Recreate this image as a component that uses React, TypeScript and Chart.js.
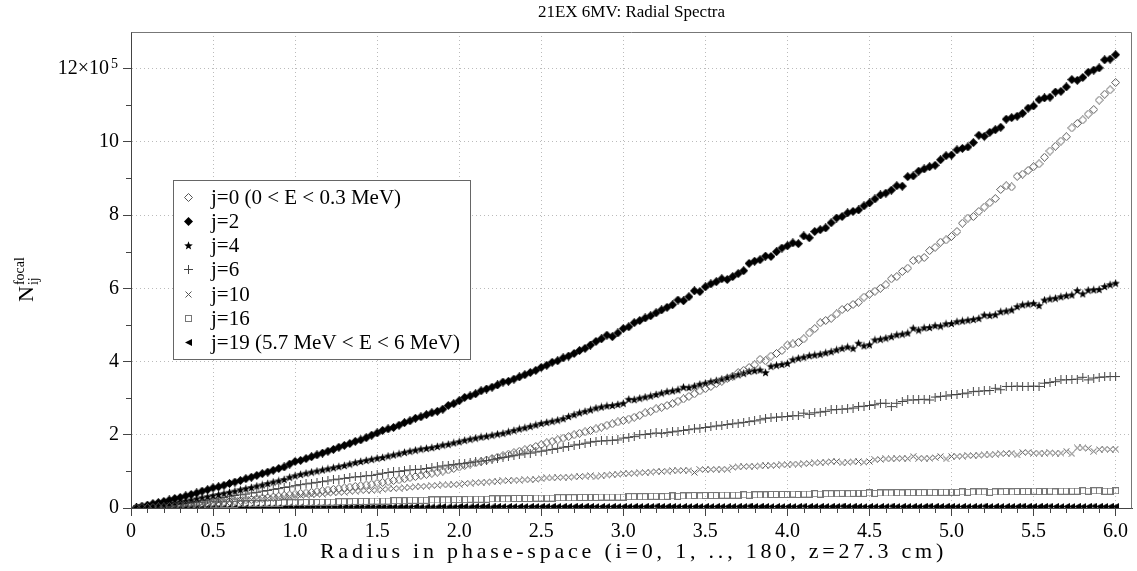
import React, { useEffect, useRef } from 'react';
import { Chart, registerables } from 'chart.js';

Chart.register(...registerables);

const FONT = '"Liberation Serif", "Times New Roman", serif';

const TITLE = '21EX 6MV: Radial Spectra';
const X_TITLE = 'Radius in phase-space (i=0, 1, .., 180, z=27.3 cm)';
const Y_TITLE_MAIN = 'N';
const Y_TITLE_SUB = 'ij';
const Y_TITLE_SUP = 'focal';

// phase-space radius index i = 1..180 (radius = i * 6/180)
const POINT_INDEX: number[] = Array.from({ length: 180 }, (_, k) => k + 1);
const RADIUS_PER_INDEX = 6 / 180;

const X_TICKS = [0, 0.5, 1, 1.5, 2, 2.5, 3, 3.5, 4, 4.5, 5, 5.5, 6];
const X_TICK_LABELS = ['0', '0.5', '1.0', '1.5', '2.0', '2.5', '3.0', '3.5', '4.0', '4.5', '5.0', '5.5', '6.0'];
const Y_TICKS = [0, 2, 4, 6, 8, 10, 12];
const Y_TICK_LABELS = ['0', '2', '4', '6', '8', '10', '12\u00d710\u2002'];
const Y_TICK_EXPONENT = '5';

const SERIES_LABELS = [
  'j=0 (0 < E < 0.3 MeV)',
  'j=2',
  'j=4',
  'j=6',
  'j=10',
  'j=16',
  'j=19 (5.7 MeV < E < 6 MeV)',
];

// values in units of 1e5
const J0 = [
  0.00, 0.01, 0.01, 0.02, 0.03, 0.03, 0.04, 0.05, 0.06, 0.07, 0.08, 0.09, 0.11, 0.12, 0.14,
  0.15, 0.16, 0.18, 0.19, 0.20, 0.22, 0.23, 0.25, 0.27, 0.28, 0.30, 0.32, 0.34, 0.36, 0.38,
  0.40, 0.41, 0.43, 0.45, 0.47, 0.49, 0.51, 0.53, 0.55, 0.57, 0.59, 0.61, 0.63, 0.65, 0.68,
  0.70, 0.72, 0.75, 0.77, 0.80, 0.83, 0.86, 0.89, 0.92, 0.95, 0.98, 1.01, 1.04, 1.08, 1.12,
  1.16, 1.20, 1.23, 1.27, 1.31, 1.35, 1.39, 1.43, 1.47, 1.51, 1.55, 1.59, 1.63, 1.68, 1.73,
  1.78, 1.82, 1.86, 1.91, 1.95, 2.00, 2.04, 2.08, 2.12, 2.16, 2.21, 2.26, 2.30, 2.35, 2.39,
  2.43, 2.48, 2.53, 2.60, 2.64, 2.71, 2.75, 2.80, 2.85, 2.92, 2.98, 3.05, 3.12, 3.20, 3.26,
  3.32, 3.40, 3.46, 3.54, 3.60, 3.70, 3.76, 3.84, 3.91, 4.06, 4.02, 4.15, 4.22, 4.30, 4.45,
  4.48, 4.52, 4.62, 4.78, 4.90, 5.06, 5.12, 5.18, 5.30, 5.42, 5.48, 5.56, 5.62, 5.76, 5.84,
  5.92, 6.00, 6.10, 6.26, 6.32, 6.46, 6.55, 6.76, 6.80, 6.84, 7.03, 7.12, 7.26, 7.32, 7.42,
  7.55, 7.78, 7.92, 7.96, 8.10, 8.22, 8.34, 8.45, 8.70, 8.80, 8.77, 9.06, 9.12, 9.22, 9.32,
  9.40, 9.58, 9.75, 9.88, 10.02, 10.14, 10.38, 10.50, 10.60, 10.76, 10.88, 11.14, 11.30, 11.42, 11.62,
];
const J2 = [
  0.02, 0.05, 0.08, 0.12, 0.15, 0.18, 0.22, 0.26, 0.29, 0.33, 0.37, 0.41, 0.46, 0.50, 0.55,
  0.58, 0.62, 0.67, 0.71, 0.75, 0.80, 0.84, 0.89, 0.94, 0.98, 1.03, 1.08, 1.12, 1.20, 1.27,
  1.30, 1.35, 1.40, 1.45, 1.50, 1.55, 1.60, 1.66, 1.71, 1.76, 1.82, 1.86, 1.92, 1.99, 2.05,
  2.12, 2.16, 2.20, 2.26, 2.33, 2.38, 2.45, 2.49, 2.55, 2.60, 2.64, 2.70, 2.80, 2.85, 2.93,
  3.02, 3.06, 3.12, 3.20, 3.25, 3.30, 3.36, 3.44, 3.46, 3.52, 3.58, 3.64, 3.70, 3.76, 3.84,
  3.90, 3.98, 4.02, 4.10, 4.15, 4.22, 4.30, 4.36, 4.45, 4.55, 4.62, 4.72, 4.68, 4.78, 4.90,
  4.95, 5.06, 5.12, 5.19, 5.25, 5.33, 5.41, 5.48, 5.55, 5.68, 5.66, 5.77, 5.93, 5.91, 6.04,
  6.12, 6.18, 6.26, 6.24, 6.32, 6.40, 6.48, 6.68, 6.74, 6.78, 6.88, 6.87, 7.00, 7.10, 7.16,
  7.24, 7.22, 7.43, 7.38, 7.55, 7.60, 7.65, 7.79, 7.92, 7.96, 8.06, 8.10, 8.14, 8.25, 8.33,
  8.44, 8.55, 8.60, 8.68, 8.80, 8.79, 9.05, 9.07, 9.20, 9.26, 9.32, 9.36, 9.51, 9.62, 9.64,
  9.78, 9.82, 9.86, 9.98, 10.18, 10.15, 10.26, 10.33, 10.40, 10.62, 10.66, 10.70, 10.78, 10.92, 10.98,
  11.15, 11.20, 11.22, 11.36, 11.38, 11.50, 11.70, 11.68, 11.76, 11.90, 11.96, 12.02, 12.24, 12.26, 12.38,
];
const J4 = [
  0.01, 0.02, 0.04, 0.06, 0.08, 0.10, 0.12, 0.14, 0.17, 0.19, 0.22, 0.25, 0.28, 0.31, 0.34,
  0.37, 0.40, 0.43, 0.46, 0.50, 0.53, 0.56, 0.60, 0.63, 0.67, 0.71, 0.74, 0.78, 0.84, 0.88,
  0.92, 0.95, 0.98, 1.01, 1.04, 1.07, 1.10, 1.13, 1.16, 1.20, 1.24, 1.27, 1.30, 1.33, 1.36,
  1.38, 1.42, 1.45, 1.48, 1.52, 1.55, 1.58, 1.61, 1.63, 1.65, 1.68, 1.72, 1.74, 1.78, 1.81,
  1.85, 1.88, 1.91, 1.94, 1.96, 1.99, 2.02, 2.04, 2.08, 2.12, 2.16, 2.19, 2.23, 2.27, 2.31,
  2.34, 2.37, 2.40, 2.44, 2.50, 2.55, 2.60, 2.64, 2.68, 2.73, 2.76, 2.79, 2.80, 2.83, 2.86,
  2.97, 2.96, 3.00, 3.03, 3.06, 3.10, 3.14, 3.18, 3.20, 3.23, 3.30, 3.29, 3.33, 3.38, 3.41,
  3.45, 3.48, 3.52, 3.56, 3.60, 3.64, 3.68, 3.73, 3.75, 3.77, 3.70, 3.87, 3.90, 3.92, 3.95,
  4.05, 4.09, 4.12, 4.16, 4.18, 4.20, 4.24, 4.27, 4.32, 4.36, 4.40, 4.36, 4.50, 4.43, 4.46,
  4.59, 4.61, 4.64, 4.68, 4.73, 4.75, 4.78, 4.91, 4.86, 4.92, 4.93, 4.98, 4.97, 5.03, 5.04,
  5.09, 5.11, 5.13, 5.15, 5.18, 5.27, 5.26, 5.28, 5.36, 5.38, 5.41, 5.50, 5.55, 5.57, 5.59,
  5.53, 5.68, 5.71, 5.73, 5.77, 5.80, 5.82, 5.94, 5.85, 5.95, 5.96, 5.97, 6.05, 6.10, 6.14,
];
const J6 = [
  0.01, 0.02, 0.03, 0.04, 0.06, 0.07, 0.09, 0.10, 0.12, 0.14, 0.16, 0.18, 0.20, 0.22, 0.25,
  0.27, 0.29, 0.31, 0.34, 0.36, 0.38, 0.41, 0.43, 0.46, 0.48, 0.51, 0.53, 0.56, 0.58, 0.61,
  0.64, 0.66, 0.68, 0.70, 0.72, 0.74, 0.77, 0.79, 0.81, 0.83, 0.85, 0.86, 0.88, 0.89, 0.92,
  0.95, 0.97, 0.99, 1.00, 1.02, 1.04, 1.05, 1.06, 1.08, 1.10, 1.12, 1.15, 1.17, 1.19, 1.21,
  1.22, 1.24, 1.26, 1.28, 1.30, 1.32, 1.35, 1.38, 1.40, 1.43, 1.45, 1.48, 1.50, 1.53, 1.55,
  1.58, 1.60, 1.63, 1.66, 1.68, 1.72, 1.74, 1.77, 1.80, 1.82, 1.83, 1.84, 1.85, 1.86, 1.91,
  1.93, 1.95, 2.00, 2.01, 2.03, 2.05, 2.04, 2.06, 2.08, 2.10, 2.12, 2.14, 2.16, 2.18, 2.20,
  2.22, 2.24, 2.26, 2.28, 2.30, 2.32, 2.34, 2.36, 2.38, 2.41, 2.45, 2.46, 2.48, 2.49, 2.50,
  2.52, 2.52, 2.59, 2.56, 2.60, 2.62, 2.64, 2.68, 2.69, 2.70, 2.71, 2.73, 2.77, 2.78, 2.80,
  2.82, 2.86, 2.86, 2.77, 2.86, 2.91, 2.95, 2.95, 2.96, 2.97, 2.95, 3.03, 3.05, 3.06, 3.09,
  3.10, 3.12, 3.14, 3.18, 3.19, 3.20, 3.21, 3.27, 3.23, 3.32, 3.32, 3.33, 3.32, 3.32, 3.33,
  3.32, 3.41, 3.43, 3.45, 3.50, 3.50, 3.51, 3.52, 3.57, 3.50, 3.55, 3.57, 3.58, 3.59, 3.59,
];
const J10 = [
  0.00, 0.01, 0.02, 0.03, 0.03, 0.04, 0.05, 0.06, 0.07, 0.08, 0.09, 0.11, 0.12, 0.14, 0.16,
  0.17, 0.18, 0.19, 0.20, 0.21, 0.22, 0.23, 0.24, 0.25, 0.26, 0.27, 0.28, 0.30, 0.31, 0.33,
  0.34, 0.35, 0.36, 0.37, 0.38, 0.40, 0.41, 0.42, 0.43, 0.45, 0.46, 0.47, 0.48, 0.48, 0.49,
  0.51, 0.52, 0.53, 0.54, 0.55, 0.56, 0.58, 0.59, 0.60, 0.61, 0.62, 0.63, 0.63, 0.64, 0.65,
  0.67, 0.68, 0.69, 0.70, 0.71, 0.72, 0.73, 0.74, 0.75, 0.76, 0.76, 0.77, 0.77, 0.78, 0.80,
  0.82, 0.82, 0.83, 0.84, 0.84, 0.85, 0.86, 0.87, 0.88, 0.85, 0.88, 0.90, 0.91, 0.92, 0.94,
  0.94, 0.95, 0.96, 0.97, 0.98, 1.00, 1.00, 1.01, 1.02, 1.02, 1.03, 1.03, 0.97, 1.05, 1.05,
  1.05, 1.06, 1.06, 1.06, 1.11, 1.12, 1.13, 1.14, 1.14, 1.15, 1.16, 1.16, 1.17, 1.18, 1.18,
  1.20, 1.20, 1.21, 1.22, 1.23, 1.24, 1.25, 1.27, 1.27, 1.23, 1.25, 1.26, 1.27, 1.25, 1.27,
  1.32, 1.33, 1.34, 1.34, 1.35, 1.36, 1.35, 1.41, 1.36, 1.36, 1.36, 1.38, 1.41, 1.34, 1.41,
  1.41, 1.42, 1.43, 1.43, 1.44, 1.45, 1.45, 1.47, 1.48, 1.49, 1.50, 1.45, 1.52, 1.52, 1.50,
  1.50, 1.50, 1.51, 1.50, 1.50, 1.55, 1.48, 1.64, 1.64, 1.63, 1.55, 1.60, 1.61, 1.60, 1.61,
];
const J16 = [
  0.00, 0.01, 0.01, 0.02, 0.02, 0.03, 0.03, 0.04, 0.05, 0.05, 0.06, 0.07, 0.07, 0.08, 0.09,
  0.09, 0.10, 0.10, 0.10, 0.11, 0.11, 0.12, 0.12, 0.12, 0.13, 0.13, 0.13, 0.14, 0.14, 0.14,
  0.14, 0.15, 0.15, 0.15, 0.16, 0.16, 0.16, 0.17, 0.17, 0.17, 0.18, 0.18, 0.18, 0.19, 0.19,
  0.19, 0.19, 0.20, 0.20, 0.20, 0.21, 0.21, 0.21, 0.21, 0.22, 0.22, 0.22, 0.22, 0.23, 0.23,
  0.23, 0.24, 0.24, 0.24, 0.24, 0.25, 0.25, 0.25, 0.25, 0.26, 0.26, 0.26, 0.26, 0.27, 0.27,
  0.27, 0.27, 0.28, 0.28, 0.28, 0.28, 0.29, 0.29, 0.29, 0.29, 0.30, 0.30, 0.30, 0.30, 0.30,
  0.31, 0.31, 0.31, 0.31, 0.32, 0.32, 0.31, 0.32, 0.33, 0.32, 0.33, 0.33, 0.34, 0.33, 0.34,
  0.34, 0.34, 0.35, 0.35, 0.35, 0.35, 0.36, 0.35, 0.36, 0.36, 0.36, 0.37, 0.37, 0.37, 0.37,
  0.38, 0.37, 0.38, 0.38, 0.39, 0.38, 0.39, 0.39, 0.39, 0.40, 0.39, 0.40, 0.40, 0.40, 0.41,
  0.40, 0.41, 0.41, 0.41, 0.42, 0.41, 0.42, 0.42, 0.42, 0.42, 0.43, 0.42, 0.43, 0.43, 0.43,
  0.43, 0.44, 0.43, 0.44, 0.44, 0.44, 0.43, 0.44, 0.44, 0.45, 0.44, 0.45, 0.45, 0.45, 0.46,
  0.45, 0.45, 0.46, 0.44, 0.46, 0.46, 0.46, 0.46, 0.47, 0.46, 0.47, 0.47, 0.46, 0.46, 0.47,
];
const J19 = [
  0.00, 0.00, 0.00, 0.01, 0.01, 0.01, 0.01, 0.01, 0.01, 0.01, 0.01, 0.01, 0.01, 0.02, 0.02,
  0.02, 0.02, 0.02, 0.02, 0.02, 0.02, 0.02, 0.02, 0.02, 0.02, 0.02, 0.02, 0.02, 0.03, 0.02,
  0.03, 0.02, 0.03, 0.03, 0.03, 0.03, 0.03, 0.03, 0.03, 0.03, 0.03, 0.03, 0.03, 0.03, 0.03,
  0.03, 0.03, 0.03, 0.03, 0.03, 0.03, 0.04, 0.03, 0.03, 0.03, 0.03, 0.04, 0.03, 0.03, 0.04,
  0.04, 0.03, 0.04, 0.04, 0.04, 0.03, 0.04, 0.04, 0.04, 0.04, 0.04, 0.04, 0.04, 0.04, 0.04,
  0.04, 0.04, 0.04, 0.04, 0.04, 0.04, 0.04, 0.04, 0.04, 0.04, 0.04, 0.04, 0.04, 0.04, 0.04,
  0.04, 0.04, 0.04, 0.04, 0.04, 0.05, 0.04, 0.04, 0.04, 0.04, 0.04, 0.04, 0.04, 0.04, 0.04,
  0.04, 0.04, 0.04, 0.04, 0.04, 0.04, 0.04, 0.05, 0.04, 0.04, 0.04, 0.04, 0.04, 0.04, 0.04,
  0.04, 0.04, 0.05, 0.04, 0.04, 0.04, 0.04, 0.04, 0.04, 0.05, 0.04, 0.04, 0.04, 0.04, 0.04,
  0.04, 0.04, 0.04, 0.05, 0.04, 0.04, 0.04, 0.04, 0.04, 0.04, 0.05, 0.04, 0.04, 0.04, 0.04,
  0.04, 0.04, 0.04, 0.04, 0.04, 0.05, 0.04, 0.04, 0.04, 0.04, 0.04, 0.04, 0.05, 0.04, 0.04,
  0.04, 0.04, 0.05, 0.04, 0.04, 0.04, 0.04, 0.04, 0.04, 0.04, 0.05, 0.04, 0.04, 0.04, 0.04,
];
const SERIES_VALUES = [J0, J2, J4, J6, J10, J16, J19];

function sprite(size: number, draw: (ctx: CanvasRenderingContext2D) => void): HTMLCanvasElement {
  const c = document.createElement('canvas');
  c.width = size;
  c.height = size;
  const ctx = c.getContext('2d')!;
  draw(ctx);
  return c;
}

function makeMarkers(): HTMLCanvasElement[] {
  const diamondOpen = sprite(9, (ctx) => {
    ctx.strokeStyle = '#555';
    ctx.lineWidth = 1;
    ctx.beginPath();
    ctx.moveTo(4.5, 0.5);
    ctx.lineTo(8.5, 4.5);
    ctx.lineTo(4.5, 8.5);
    ctx.lineTo(0.5, 4.5);
    ctx.closePath();
    ctx.stroke();
  });
  const diamondFilled = sprite(9, (ctx) => {
    ctx.fillStyle = '#000';
    ctx.beginPath();
    ctx.moveTo(4.5, 0);
    ctx.lineTo(9, 4.5);
    ctx.lineTo(4.5, 9);
    ctx.lineTo(0, 4.5);
    ctx.closePath();
    ctx.fill();
  });
  const star = sprite(9, (ctx) => {
    ctx.fillStyle = '#000';
    ctx.beginPath();
    for (let k = 0; k < 10; k++) {
      const r = k % 2 === 0 ? 4.5 : 1.9;
      const a = -Math.PI / 2 + (k * Math.PI) / 5;
      const px = 4.5 + r * Math.cos(a);
      const py = 4.8 + r * Math.sin(a);
      if (k === 0) ctx.moveTo(px, py);
      else ctx.lineTo(px, py);
    }
    ctx.closePath();
    ctx.fill();
  });
  const plus = sprite(9, (ctx) => {
    ctx.strokeStyle = '#444';
    ctx.lineWidth = 1;
    ctx.beginPath();
    ctx.moveTo(4.5, 0);
    ctx.lineTo(4.5, 9);
    ctx.moveTo(0, 4.5);
    ctx.lineTo(9, 4.5);
    ctx.stroke();
  });
  const cross = sprite(7, (ctx) => {
    ctx.strokeStyle = '#555';
    ctx.lineWidth = 1;
    ctx.beginPath();
    ctx.moveTo(0.5, 0.5);
    ctx.lineTo(6.5, 6.5);
    ctx.moveTo(6.5, 0.5);
    ctx.lineTo(0.5, 6.5);
    ctx.stroke();
  });
  const square = sprite(7, (ctx) => {
    ctx.strokeStyle = '#777';
    ctx.lineWidth = 1;
    ctx.strokeRect(0.5, 0.5, 6, 6);
  });
  const triLeft = sprite(7, (ctx) => {
    ctx.fillStyle = '#000';
    ctx.beginPath();
    ctx.moveTo(0, 3.5);
    ctx.lineTo(7, 0);
    ctx.lineTo(7, 7);
    ctx.closePath();
    ctx.fill();
  });
  return [diamondOpen, diamondFilled, star, plus, cross, square, triLeft];
}

const decorPlugin = {
  id: 'decor',
  beforeDraw(chart: any) {
    const ctx = chart.ctx;
    ctx.save();
    ctx.fillStyle = '#fff';
    ctx.fillRect(0, 0, chart.width, chart.height);
    ctx.restore();
  },
  afterDraw(chart: any) {
    const ctx: CanvasRenderingContext2D = chart.ctx;
    const area = chart.chartArea;
    const xs = chart.scales.x;
    const ys = chart.scales.y;
    ctx.save();

    // frame top/right
    ctx.strokeStyle = '#777';
    ctx.lineWidth = 1;
    ctx.beginPath();
    ctx.moveTo(Math.round(area.left) + 0.5, Math.round(area.top) + 0.5);
    ctx.lineTo(Math.round(area.right) - 0.5, Math.round(area.top) + 0.5);
    ctx.lineTo(Math.round(area.right) - 0.5, Math.round(area.bottom) + 0.5);
    ctx.stroke();

    // minor ticks
    ctx.strokeStyle = '#444';
    ctx.beginPath();
    for (let k = 1; k <= 11; k += 2) {
      const py = Math.round(ys.getPixelForValue(k)) + 0.5;
      ctx.moveTo(area.left - 5, py);
      ctx.lineTo(area.left, py);
    }
    for (let k = 1; k <= 60; k++) {
      if (k % 5 === 0) continue;
      const px = Math.round(xs.getPixelForValue(k / 10)) + 0.5;
      ctx.moveTo(px, area.bottom);
      ctx.lineTo(px, area.bottom + 5);
    }
    ctx.stroke();

    // exponent of the top y tick label
    ctx.fillStyle = '#000';
    ctx.font = `14px ${FONT}`;
    ctx.textAlign = 'left';
    ctx.textBaseline = 'alphabetic';
    ctx.fillText(Y_TICK_EXPONENT, 111, ys.getPixelForValue(12) - 1);

    // title
    ctx.font = `17px ${FONT}`;
    ctx.textAlign = 'center';
    ctx.textBaseline = 'middle';
    ctx.fillText(TITLE, (area.left + area.right) / 2, 13);

    // x title
    ctx.font = `22px ${FONT}`;
    ctx.textBaseline = 'alphabetic';
    (ctx as any).letterSpacing = '3.8px';
    ctx.fillText(X_TITLE, (area.left + area.right) / 2 + 2, 558);
    (ctx as any).letterSpacing = '0px';

    // y title (rotated)
    ctx.save();
    ctx.translate(33, 302);
    ctx.rotate(-Math.PI / 2);
    ctx.textAlign = 'left';
    ctx.font = `22px ${FONT}`;
    ctx.fillText(Y_TITLE_MAIN, 0, 0);
    const w = ctx.measureText(Y_TITLE_MAIN).width;
    ctx.font = `14px ${FONT}`;
    ctx.fillText(Y_TITLE_SUB, w + 1, 5);
    ctx.fillText(Y_TITLE_SUP, w + 1, -9);
    ctx.restore();

    // legend
    const lx = 173, ly = 180, lw = 297, lh = 179;
    ctx.fillStyle = '#fff';
    ctx.fillRect(lx, ly, lw, lh);
    ctx.strokeStyle = '#666';
    ctx.strokeRect(lx + 0.5, ly + 0.5, lw, lh);
    ctx.font = `21px ${FONT}`;
    ctx.textAlign = 'left';
    ctx.textBaseline = 'middle';
    ctx.fillStyle = '#000';
    chart.data.datasets.forEach((ds: any, k: number) => {
      const cy = 197 + k * 24.3;
      const img = ds.pointStyle as HTMLCanvasElement;
      ctx.drawImage(img, Math.round(188 - img.width / 2), Math.round(cy - img.height / 2));
      ctx.fillText(ds.label, 211, cy + 1);
    });

    ctx.restore();
  },
};

export default function App() {
  const ref = useRef<HTMLCanvasElement>(null);
  useEffect(() => {
    const markers = makeMarkers();
    const datasets = SERIES_LABELS.map((label, s) => ({
      label,
      data: POINT_INDEX.map((i, k) => ({ x: i * RADIUS_PER_INDEX, y: SERIES_VALUES[s][k] })),
      pointStyle: markers[s],
      pointRadius: 4,
      showLine: false,
    }));
    const tickFont = { family: FONT, size: 20 };
    const chart = new Chart(ref.current!, {
      type: 'scatter',
      data: { datasets },
      plugins: [decorPlugin],
      options: {
        responsive: false,
        animation: false,
        devicePixelRatio: 1,
        layout: { padding: { top: 32, right: 2, left: 0, bottom: 0 } },
        plugins: { legend: { display: false }, title: { display: false }, tooltip: { enabled: false } },
        scales: {
          x: {
            type: 'linear',
            min: 0,
            max: 6.1,
            afterFit: (s: any) => { s.height = 63; },
            afterBuildTicks: (s: any) => { s.ticks = X_TICKS.map((v) => ({ value: v })); },
            ticks: {
              font: tickFont,
              color: '#000',
              padding: 4,
              maxRotation: 0,
              autoSkip: false,
              callback: (_v: any, i: number) => X_TICK_LABELS[i],
            },
            grid: { color: '#bbb', tickColor: '#444', tickLength: 8, tickBorderDash: [], lineWidth: 1 },
            border: { display: true, color: '#444', dash: [1, 3] },
          },
          y: {
            type: 'linear',
            min: 0,
            max: 13,
            afterFit: (s: any) => { s.width = 131; },
            afterBuildTicks: (s: any) => { s.ticks = Y_TICKS.map((v) => ({ value: v })); },
            ticks: {
              font: tickFont,
              color: '#000',
              padding: 4,
              autoSkip: false,
              callback: (_v: any, i: number) => Y_TICK_LABELS[i],
            },
            grid: { color: '#bbb', tickColor: '#444', tickLength: 8, tickBorderDash: [], lineWidth: 1 },
            border: { display: true, color: '#444', dash: [1, 3] },
          },
        },
      } as any,
    });
    return () => chart.destroy();
  }, []);
  return (
    <canvas
      ref={ref}
      width={1137}
      height={571}
      style={{ position: 'absolute', left: 0, top: 0, width: 1137, height: 571, display: 'block' }}
    />
  );
}
